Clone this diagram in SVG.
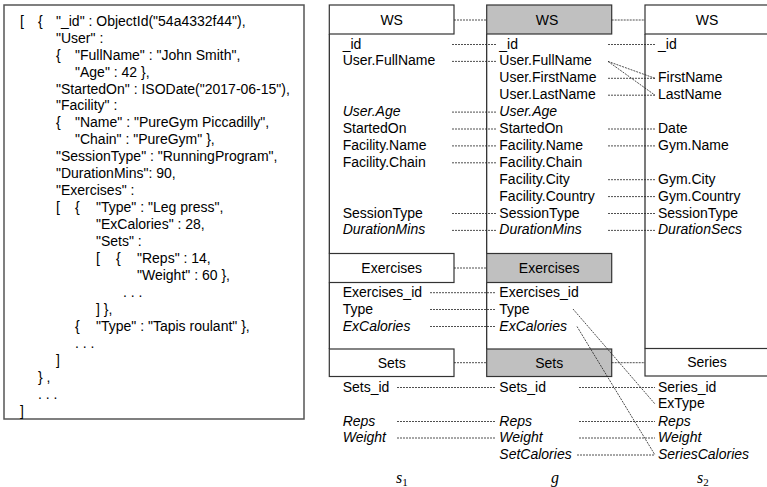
<svg xmlns="http://www.w3.org/2000/svg" width="767" height="487" viewBox="0 0 767 487">
  <style>
    .t { font-family: "Liberation Sans", Arial, sans-serif; font-size: 14px; fill: #000; white-space: pre; }
    .i { font-style: italic; }
    .mid { text-anchor: middle; }
    .hdr { fill: #fff; stroke: #333; stroke-width: 1.2; }
    .gray { fill: #c0c0c0; }
    .edge { stroke: #222; stroke-width: 1.2; fill: none; }
    .c { stroke: #222; stroke-width: 0.8; stroke-dasharray: 2 1; fill: none; }
    .lbl { font-family: "Liberation Serif", "Times New Roman", serif; font-size: 16px; font-style: italic; fill: #000; }
    .sub { font-style: normal; font-size: 11px; }
  </style>

  <!-- JSON document -->
  <g id="json">
    <rect x="4" y="5" width="300" height="414" fill="#fff" stroke="#555" stroke-width="1.5"/>
    <g class="t">
      <text x="20" y="25.7">[</text><text x="38" y="25.7">{</text><text x="56" y="25.7">"_id" : ObjectId("54a4332f44"),</text>
      <text x="56" y="42.65">"User" :</text>
      <text x="56" y="59.6">{</text><text x="75" y="59.6">"FullName" : "John Smith",</text>
      <text x="75" y="76.55">"Age" : 42  },</text>
      <text x="56" y="93.5">"StartedOn" : ISODate("2017-06-15"),</text>
      <text x="56" y="110.45">"Facility" :</text>
      <text x="56" y="127.4">{</text><text x="75" y="127.4">"Name" : "PureGym Piccadilly",</text>
      <text x="75" y="144.35">"Chain" : "PureGym"  },</text>
      <text x="56" y="161.3">"SessionType" : "RunningProgram",</text>
      <text x="56" y="178.25">"DurationMins": 90,</text>
      <text x="56" y="195.2">"Exercises" :</text>
      <text x="56" y="212.15">[</text><text x="75" y="212.15">{</text><text x="96" y="212.15">"Type" : "Leg press",</text>
      <text x="96" y="229.1">"ExCalories" : 28,</text>
      <text x="96" y="246.05">"Sets" :</text>
      <text x="96" y="263">[</text><text x="116" y="263">{</text><text x="137" y="263">"Reps" : 14,</text>
      <text x="137" y="279.95">"Weight" : 60  },</text>
      <text x="123" y="296.9">. . .</text>
      <text x="96" y="313.85">] },</text>
      <text x="75" y="330.8">{</text><text x="96" y="330.8">"Type" : "Tapis roulant" },</text>
      <text x="75" y="347.75">. . .</text>
      <text x="56" y="364.7">]</text>
      <text x="38" y="381.65">} ,</text>
      <text x="38" y="398.6">. . .</text>
      <text x="20" y="415.55">]</text>
    </g>
  </g>

  <!-- schema s1 -->
  <g id="s1">
    <path class="edge" d="M329.3,34 V253.5 M329.3,282.5 V349"/>
    <g id="s1-ws">
      <rect class="hdr" x="329.3" y="5" width="124.7" height="29"/>
      <text class="t mid" x="391.7" y="25">WS</text>
      <text class="t" x="342.7" y="48.5">_id</text>
      <text class="t" x="342.7" y="65.4">User.FullName</text>
      <text class="t i" x="342.7" y="116.1">User.Age</text>
      <text class="t" x="342.7" y="133">StartedOn</text>
      <text class="t" x="342.7" y="149.9">Facility.Name</text>
      <text class="t" x="342.7" y="166.8">Facility.Chain</text>
      <text class="t" x="342.7" y="217.5">SessionType</text>
      <text class="t i" x="342.7" y="234.4">DurationMins</text>
    </g>
    <g id="s1-exercises">
      <rect class="hdr" x="329.3" y="253.5" width="124.7" height="29"/>
      <text class="t mid" x="391.7" y="273">Exercises</text>
      <text class="t" x="342.7" y="296.7">Exercises_id</text>
      <text class="t" x="342.7" y="313.5">Type</text>
      <text class="t i" x="342.7" y="330.5">ExCalories</text>
    </g>
    <g id="s1-sets">
      <rect class="hdr" x="329.3" y="349" width="124.7" height="27.5"/>
      <text class="t mid" x="391.7" y="367.7">Sets</text>
      <text class="t" x="342.7" y="391.5">Sets_id</text>
      <text class="t i" x="342.7" y="425.5">Reps</text>
      <text class="t i" x="342.7" y="442">Weight</text>
    </g>
  </g>

  <!-- schema g -->
  <g id="g">
    <path class="edge" d="M486.7,34 V253.5 M486.7,282.5 V349"/>
    <g id="g-ws">
      <rect class="hdr gray" x="486.7" y="5" width="125" height="29"/>
      <text class="t mid" x="547" y="25">WS</text>
      <text class="t" x="499.3" y="48.5">_id</text>
      <text class="t" x="499.3" y="65.4">User.FullName</text>
      <text class="t" x="499.3" y="82.3">User.FirstName</text>
      <text class="t" x="499.3" y="99.2">User.LastName</text>
      <text class="t i" x="499.3" y="116.1">User.Age</text>
      <text class="t" x="499.3" y="133">StartedOn</text>
      <text class="t" x="499.3" y="149.9">Facility.Name</text>
      <text class="t" x="499.3" y="166.8">Facility.Chain</text>
      <text class="t" x="499.3" y="183.7">Facility.City</text>
      <text class="t" x="499.3" y="200.6">Facility.Country</text>
      <text class="t" x="499.3" y="217.5">SessionType</text>
      <text class="t i" x="499.3" y="234.4">DurationMins</text>
    </g>
    <g id="g-exercises">
      <rect class="hdr gray" x="486.7" y="253.5" width="125" height="29"/>
      <text class="t mid" x="549.2" y="273">Exercises</text>
      <text class="t" x="499.3" y="296.7">Exercises_id</text>
      <text class="t" x="499.3" y="313.5">Type</text>
      <text class="t i" x="499.3" y="330.5">ExCalories</text>
    </g>
    <g id="g-sets">
      <rect class="hdr gray" x="486.7" y="349" width="125" height="27.5"/>
      <text class="t mid" x="549.2" y="367.7">Sets</text>
      <text class="t" x="499.3" y="391.5">Sets_id</text>
      <text class="t i" x="499.3" y="425.5">Reps</text>
      <text class="t i" x="499.3" y="442">Weight</text>
      <text class="t i" x="499.3" y="459">SetCalories</text>
    </g>
  </g>

  <!-- schema s2 -->
  <g id="s2">
    <path class="edge" d="M645,34 V348.5"/>
    <g id="s2-ws">
      <rect class="hdr" x="645" y="5" width="130" height="29"/>
      <text class="t mid" x="707" y="25">WS</text>
      <text class="t" x="658" y="48.5">_id</text>
      <text class="t" x="658" y="82.3">FirstName</text>
      <text class="t" x="658" y="99.2">LastName</text>
      <text class="t" x="658" y="133">Date</text>
      <text class="t" x="658" y="149.9">Gym.Name</text>
      <text class="t" x="658" y="183.7">Gym.City</text>
      <text class="t" x="658" y="200.6">Gym.Country</text>
      <text class="t" x="658" y="217.5">SessionType</text>
      <text class="t i" x="658" y="234.4">DurationSecs</text>
    </g>
    <g id="s2-series">
      <rect class="hdr" x="645" y="348.5" width="130" height="27.5"/>
      <text class="t mid" x="707" y="367.2">Series</text>
      <text class="t" x="658" y="391.5">Series_id</text>
      <text class="t" x="658" y="408">ExType</text>
      <text class="t i" x="658" y="425.5">Reps</text>
      <text class="t i" x="658" y="442">Weight</text>
      <text class="t i" x="658" y="459">SeriesCalories</text>
    </g>
  </g>

  <!-- mappings -->
  <g id="connectors" class="c">
    <!-- s1 to g -->
    <path d="M454,20 H486.7 M454,268 H486.7 M454,362.7 H486.7"/>
    <path d="M452,44.5 H496 M452,61.4 H496 M452,112.1 H496 M452,129 H496 M452,145.9 H496 M452,162.8 H496 M452,213.5 H496 M452,230.4 H496"/>
    <path d="M430,292.7 H496 M430,309.5 H496 M430,326.5 H496"/>
    <path d="M397,387.5 H496 M397,421.5 H496 M397,438 H496"/>
    <!-- g to s2 -->
    <path d="M611.7,20 H645 M611.7,362.7 H645"/>
    <path d="M608,44.5 H655 M608,78.3 H655 M608,95.2 H655 M608,129 H655 M608,145.9 H655 M608,179.7 H655 M608,196.6 H655 M608,213.5 H655 M608,230.4 H655"/>
    <path d="M608,61.4 L655,78.3 M608,61.4 L655,95.2"/>
    <path d="M573,309 L655,404 M577,326.5 L655,455"/>
    <path d="M579,387.5 H655 M579,421.5 H655 M579,438 H655 M577,455 H655"/>
  </g>

  <!-- schema names -->
  <g id="labels">
    <text class="lbl" x="396" y="483">s<tspan class="sub" dy="3">1</tspan></text>
    <text class="lbl" x="551" y="483">g</text>
    <text class="lbl" x="697" y="483">s<tspan class="sub" dy="3">2</tspan></text>
  </g>
</svg>
